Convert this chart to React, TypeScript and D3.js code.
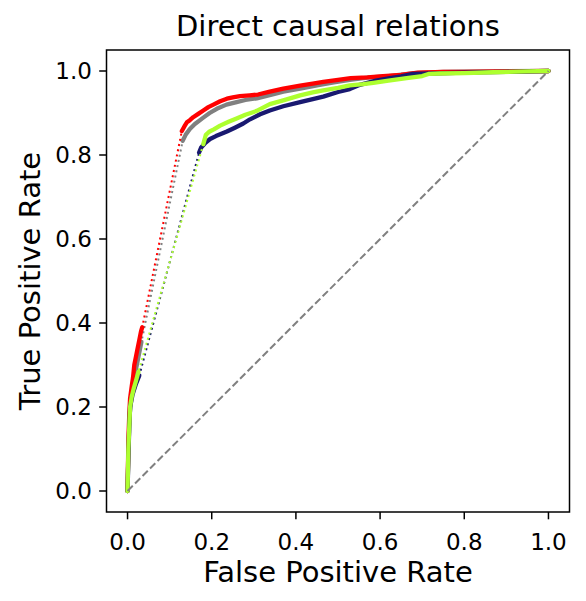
import React from "react";
import * as d3 from "d3";

// ROC points: [false positive rate, true positive rate]
const redLow = [[0, 0], [0.001, 0.06], [0.002, 0.12], [0.004, 0.18], [0.006, 0.22], [0.01, 0.25], [0.013, 0.27], [0.016, 0.3], [0.02, 0.32], [0.024, 0.34], [0.028, 0.36], [0.032, 0.38], [0.035, 0.39]];
const redHigh = [[0.129, 0.857], [0.135, 0.868], [0.141, 0.878], [0.148, 0.883], [0.156, 0.89], [0.168, 0.898], [0.18, 0.906], [0.192, 0.914], [0.204, 0.92], [0.22, 0.928], [0.236, 0.934], [0.25, 0.937], [0.267, 0.94], [0.29, 0.942], [0.31, 0.944], [0.338, 0.951], [0.37, 0.958], [0.41, 0.965], [0.44, 0.97], [0.465, 0.974], [0.5, 0.979], [0.53, 0.983], [0.57, 0.985], [0.607, 0.988], [0.65, 0.991], [0.69, 0.996], [0.75, 0.998], [0.8, 0.998], [0.9, 0.999], [1, 1]];

const grayLow = [[0, 0], [0.002, 0.1], [0.005, 0.18], [0.01, 0.23], [0.016, 0.27], [0.022, 0.3], [0.028, 0.33], [0.033, 0.355]];
const grayHigh = [[0.131, 0.834], [0.138, 0.848], [0.148, 0.862], [0.16, 0.874], [0.18, 0.889], [0.195, 0.9], [0.212, 0.91], [0.235, 0.92], [0.259, 0.926], [0.28, 0.931], [0.307, 0.935], [0.34, 0.943], [0.37, 0.951], [0.41, 0.958], [0.45, 0.966], [0.49, 0.973], [0.528, 0.979], [0.57, 0.984], [0.62, 0.988], [0.68, 0.995], [0.75, 0.998], [0.85, 0.999], [1, 1]];

const navyLow = [[0, 0], [0.002, 0.08], [0.004, 0.15], [0.006, 0.2], [0.012, 0.23], [0.02, 0.255], [0.028, 0.275]];
const navyHigh = [[0.17, 0.806], [0.175, 0.818], [0.185, 0.829], [0.196, 0.838], [0.21, 0.845], [0.236, 0.856], [0.255, 0.865], [0.275, 0.875], [0.291, 0.885], [0.315, 0.897], [0.338, 0.906], [0.37, 0.916], [0.41, 0.926], [0.44, 0.933], [0.465, 0.939], [0.5, 0.95], [0.528, 0.957], [0.552, 0.967], [0.59, 0.977], [0.623, 0.983], [0.65, 0.987], [0.678, 0.993], [0.72, 0.994], [0.8, 0.996], [0.9, 0.998], [1, 1]];

const greenLow = [[0, 0], [0.001, 0.05], [0.002, 0.1], [0.004, 0.15], [0.006, 0.2], [0.01, 0.225], [0.015, 0.245], [0.02, 0.262], [0.026, 0.284]];
const greenHigh = [[0.18, 0.826], [0.186, 0.848], [0.195, 0.856], [0.205, 0.861], [0.22, 0.87], [0.24, 0.879], [0.259, 0.887], [0.28, 0.896], [0.307, 0.905], [0.338, 0.921], [0.37, 0.93], [0.41, 0.942], [0.44, 0.949], [0.465, 0.954], [0.5, 0.96], [0.528, 0.966], [0.56, 0.969], [0.584, 0.972], [0.62, 0.977], [0.663, 0.983], [0.7, 0.988], [0.715, 0.993], [0.742, 0.994], [0.8, 0.995], [0.868, 0.997], [0.95, 0.999], [1, 1]];

const series = [
  { color: "gray", low: grayLow, high: grayHigh },
  { color: "red", low: redLow, high: redHigh },
  { color: "#191970", low: navyLow, high: navyHigh },
  { color: "greenyellow", low: greenLow, high: greenHigh },
];

const ticks = [0, 0.2, 0.4, 0.6, 0.8, 1.0];

const width = 586;
const height = 601;
const margin = { top: 50, right: 16.5, bottom: 89, left: 106.5 };
const font = "DejaVu Sans, sans-serif";

export default function App() {
  const x = d3
    .scaleLinear()
    .domain([-0.05, 1.05])
    .range([margin.left, width - margin.right]);
  const y = d3
    .scaleLinear()
    .domain([-0.05, 1.05])
    .range([height - margin.bottom, margin.top]);

  const line = d3
    .line<number[]>()
    .x((d) => x(d[0]))
    .y((d) => y(d[1]));

  const bottom = height - margin.bottom;

  return (
    <svg
      width={width}
      height={height}
      style={{ position: "absolute", left: 0, top: 0, background: "#fff" }}
      fontFamily={font}
    >
      <rect width={width} height={height} fill="#fff" />

      {series.map((s, i) => (
        <g key={i}>
          <path
            d={line([...s.low, ...s.high]) || ""}
            fill="none"
            stroke={s.color}
            strokeWidth={2}
            strokeDasharray="2,3.3"
          />
          {[s.low, s.high].map((run, j) => (
            <path
              key={j}
              d={line(run) || ""}
              fill="none"
              stroke={s.color}
              strokeWidth={4.3}
              strokeLinejoin="round"
              strokeLinecap="round"
            />
          ))}
        </g>
      ))}

      <path
        d={line([[0, 0], [1, 1]]) || ""}
        fill="none"
        stroke="gray"
        strokeWidth={2}
        strokeDasharray="7.4,3.2"
      />

      <rect
        x={margin.left}
        y={margin.top}
        width={width - margin.left - margin.right}
        height={height - margin.top - margin.bottom}
        fill="none"
        stroke="#000"
        strokeWidth={1.5}
      />

      {ticks.map((t) => (
        <g key={"x" + t}>
          <line x1={x(t)} x2={x(t)} y1={bottom} y2={bottom + 7.3} stroke="#000" strokeWidth={1.5} />
          <text x={x(t)} y={bottom + 38} textAnchor="middle" fontSize={23}>
            {t.toFixed(1)}
          </text>
        </g>
      ))}
      {ticks.map((t) => (
        <g key={"y" + t}>
          <line x1={margin.left - 7.3} x2={margin.left} y1={y(t)} y2={y(t)} stroke="#000" strokeWidth={1.5} />
          <text x={margin.left - 14.6} y={y(t) + 8} textAnchor="end" fontSize={23}>
            {t.toFixed(1)}
          </text>
        </g>
      ))}

      <text x={(margin.left + width - margin.right) / 2} y={582} textAnchor="middle" fontSize={29}>
        False Positive Rate
      </text>
      <text
        transform={`translate(40,${(margin.top + bottom) / 2}) rotate(-90)`}
        textAnchor="middle"
        fontSize={29}
      >
        True Positive Rate
      </text>
      <text x={(margin.left + width - margin.right) / 2} y={36} textAnchor="middle" fontSize={29}>
        Direct causal relations
      </text>
    </svg>
  );
}
